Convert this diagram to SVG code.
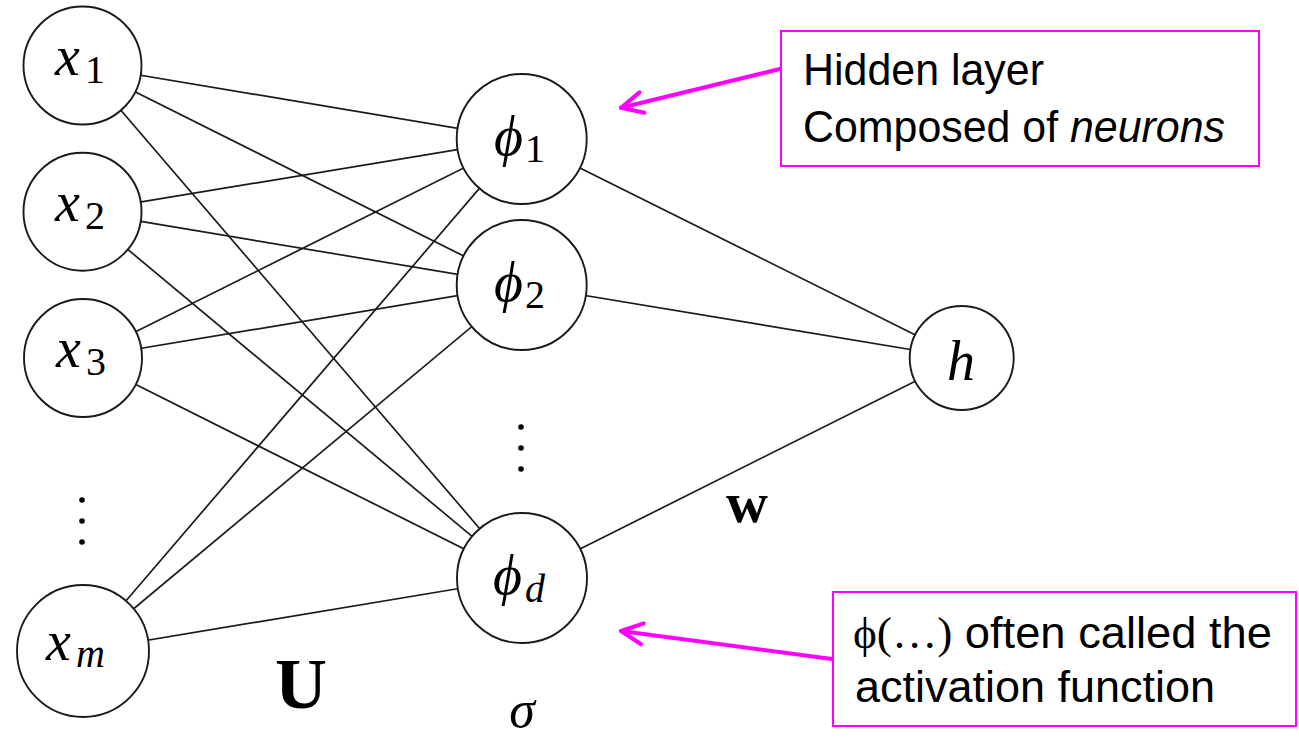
<svg xmlns="http://www.w3.org/2000/svg" width="1299" height="740" viewBox="0 0 1299 740">
<style>
.edge{stroke:#1a1a1a;stroke-width:1.7;fill:none}
.node{fill:#fff;stroke:#1a1a1a;stroke-width:1.9}
.m{font-family:"Liberation Serif","DejaVu Serif",serif;font-style:italic;font-size:56px;fill:#000}
.sub{font-family:"Liberation Serif","DejaVu Serif",serif;font-size:40px;fill:#000}
.subi{font-family:"Liberation Serif","DejaVu Serif",serif;font-style:italic;font-size:40px;fill:#000}
.dot{fill:#000}
.box{fill:#fff;stroke:#ff00ff;stroke-width:2}
.ann{font-family:"Liberation Sans","Lato",sans-serif;font-size:44px;fill:#000}
.ser{font-family:"Liberation Serif",serif}
.arr{stroke:#ff00ff;stroke-width:4;fill:none;stroke-linecap:round;marker-end:url(#ah)}
</style>
<defs>
<marker id="ah" markerUnits="userSpaceOnUse" viewBox="-26 -14 30 28" markerWidth="30" markerHeight="28" refX="0" refY="0" orient="auto" overflow="visible">
<path d="M-21.6,-10.5 L0,0 L-21.6,10.5" fill="none" stroke="#ff00ff" stroke-width="4" stroke-linecap="round" stroke-linejoin="round"/>
</marker>
</defs>
<rect width="1299" height="740" fill="#fff"/>
<g id="connectors">
<line class="edge" x1="82.5" y1="65.5" x2="521.7" y2="139"/>
<line class="edge" x1="82.5" y1="65.5" x2="521.7" y2="285"/>
<line class="edge" x1="82.5" y1="65.5" x2="522" y2="578"/>
<line class="edge" x1="82.5" y1="211.7" x2="521.7" y2="139"/>
<line class="edge" x1="82.5" y1="211.7" x2="521.7" y2="285"/>
<line class="edge" x1="82.5" y1="211.7" x2="522" y2="578"/>
<line class="edge" x1="83" y1="358" x2="521.7" y2="139"/>
<line class="edge" x1="83" y1="358" x2="521.7" y2="285"/>
<line class="edge" x1="83" y1="358" x2="522" y2="578"/>
<line class="edge" x1="83" y1="651" x2="521.7" y2="139"/>
<line class="edge" x1="83" y1="651" x2="521.7" y2="285"/>
<line class="edge" x1="83" y1="651" x2="522" y2="578"/>
<line class="edge" x1="521.7" y1="139" x2="961.7" y2="358"/>
<line class="edge" x1="521.7" y1="285" x2="961.7" y2="358"/>
<line class="edge" x1="522" y1="578" x2="961.7" y2="358"/>
<path class="arr" d="M780,69 L621,107.7"/>
<path class="arr" d="M832,659 L621,631"/>
</g>
<g id="x1"><circle class="node" cx="82.5" cy="65.5" r="59"/><text class="m" x="55" y="75">x</text><text class="sub" x="85" y="83">1</text></g>
<g id="x2"><circle class="node" cx="82.5" cy="211.7" r="59"/><text class="m" x="55" y="221">x</text><text class="sub" x="85" y="229">2</text></g>
<g id="x3"><circle class="node" cx="83" cy="358" r="59"/><text class="m" x="56" y="367">x</text><text class="sub" x="86" y="375">3</text></g>
<g id="xdots"><circle class="dot" cx="82" cy="500" r="2.8"/><circle class="dot" cx="82" cy="521" r="2.8"/><circle class="dot" cx="82" cy="542" r="2.8"/></g>
<g id="xm"><circle class="node" cx="83" cy="651" r="66"/><text class="m" x="46" y="660">x</text><text class="subi" x="76" y="667">m</text></g>
<g id="phi1"><circle class="node" cx="521.7" cy="139" r="65"/><text class="m" x="494" y="155">ϕ</text><text class="sub" x="525" y="162">1</text></g>
<g id="phi2"><circle class="node" cx="521.7" cy="285" r="65"/><text class="m" x="494" y="301">ϕ</text><text class="sub" x="525" y="308">2</text></g>
<g id="phidots"><circle class="dot" cx="521" cy="427" r="2.8"/><circle class="dot" cx="521" cy="448" r="2.8"/><circle class="dot" cx="521" cy="469" r="2.8"/></g>
<g id="phid"><circle class="node" cx="522" cy="578" r="65"/><text class="m" x="493" y="594">ϕ</text><text class="subi" x="525" y="602">d</text></g>
<g id="h"><circle class="node" cx="961.7" cy="358" r="52"/><text class="m" x="961" y="380" text-anchor="middle" font-size="58">h</text></g>
<g id="labels">
<text x="301" y="708" text-anchor="middle" font-family="Liberation Serif, serif" font-weight="bold" font-size="72">U</text>
<text x="522" y="727" text-anchor="middle" font-family="Liberation Serif, serif" font-style="italic" font-size="52">σ</text>
<text x="726" y="522" font-family="Liberation Serif, serif" font-weight="bold" font-size="58">w</text>
</g>
<g id="note-hidden">
<rect class="box" x="781" y="31" width="478" height="135"/>
<text class="ann" x="803" y="85" textLength="241" lengthAdjust="spacingAndGlyphs">Hidden layer</text>
<text class="ann" x="803" y="142" textLength="422" lengthAdjust="spacingAndGlyphs">Composed of <tspan font-style="italic">neurons</tspan></text>
</g>
<g id="note-activation">
<rect class="box" x="833" y="592" width="463" height="134"/>
<text class="ann" x="853" y="648" textLength="419" lengthAdjust="spacingAndGlyphs"><tspan class="ser">ϕ(…)</tspan> often called the</text>
<text class="ann" x="855" y="702" textLength="360" lengthAdjust="spacingAndGlyphs">activation function</text>
</g>
</svg>
